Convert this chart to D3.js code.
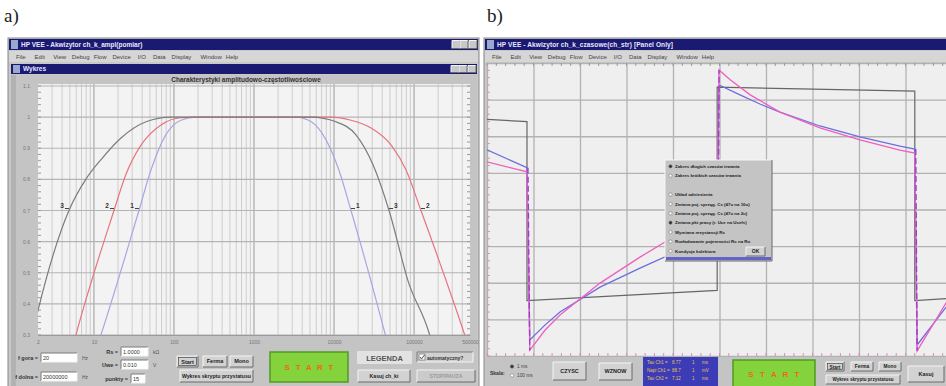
<!DOCTYPE html>
<html>
<head>
<meta charset="utf-8">
<script src="https://cdn.jsdelivr.net/npm/d3@7/dist/d3.min.js"></script>
<style>
body { margin: 0; background: #fff; }
svg { display: block; font-family: "Liberation Sans", Arial, sans-serif; }
</style>
</head>
<body>
<svg id="chart" width="946" height="386"></svg>
<script>
// --- a) amplitude-frequency characteristics ---
const freqTicks = [2, 10, 100, 1000, 10000, 100000, 500000]
const freqLabels = ["2", "10", "100", "1000", "10000", "100000", "500000"]
const ampTicks = [0.3, 0.4, 0.5, 0.6, 0.7, 0.8, 0.9, 1.0, 1.1]
const ampLabels = ["0.3", "0.4", "0.5", "0.6", "0.7", "0.8", "0.9", "1", "1.1"]

// [frequency Hz, relative amplitude]
const curve1 = [[10.5, 0.25], [12.2, 0.3], [36.5, 0.7], [51.6, 0.83], [79, 0.943], [122, 0.99], [188, 1], [3350, 1], [5200, 0.985], [7940, 0.927], [11500, 0.83], [16300, 0.7], [42200, 0.316], [47000, 0.27]]
const curve2 = [[5.3, 0.25], [5.96, 0.3], [17.8, 0.7], [25, 0.815], [38.7, 0.91], [68.8, 0.975], [122, 0.998], [217, 1], [9100, 1], [16300, 0.99], [29000, 0.965], [51800, 0.91], [79400, 0.83], [122000, 0.7], [410000, 0.316], [470000, 0.27]]
const curve3 = [[1.8, 0.33], [2.05, 0.39], [4.87, 0.7], [7.9, 0.8], [12.2, 0.863], [21.8, 0.933], [44.7, 0.985], [91, 1], [5200, 1], [10600, 0.985], [18800, 0.943], [30800, 0.846], [48700, 0.7], [85000, 0.47], [150000, 0.316], [170000, 0.27]]
const curveNames = ["1", "2", "3"]
// crossing of the 0.7 level, left and right, per curve
const labelFreqLeft = [36.5, 17.8, 4.87]
const labelFreqRight = [16300, 122000, 48700]

// --- b) time response ---
// [time div, volts div]
const squareWave = [[0, 2.46], [0.86, 2.4], [0.86, -2.49], [4.95, -2.21], [4.95, 3.34], [9.2, 3.23], [9.2, -2.49], [9.9, -2.43]]
const blueWave = [[0, 1.63], [0.86, 1.14], [0.92, -3.56], [1.25, -3.15], [1.57, -2.8], [2.43, -2.12], [3.29, -1.6], [4.15, -1.11], [4.95, -0.72],
    [4.99, 3.4], [5.44, 3.13], [5.87, 2.88], [6.3, 2.66], [7.16, 2.28], [8.02, 1.98], [8.88, 1.73], [9.2, 1.65], [9.25, -3.7], [9.9, -2.62]]
const pinkWave = [[0, 1.3], [0.86, 1.03], [0.92, -3.84], [1.25, -3.29], [1.57, -2.88], [2.43, -2.01], [3.29, -1.3], [4.15, -0.64], [4.95, -0.07],
    [4.99, 3.81], [5.23, 3.54], [5.66, 3.13], [6.3, 2.66], [7.16, 2.23], [8.02, 1.9], [8.88, 1.62], [9.2, 1.54], [9.25, -3.86], [9.9, -2.49]]

const menuItems = ["File", "Edit", "View", "Debug", "Flow", "Device", "I/O", "Data", "Display", "Window", "Help"]
const dialogOptions = ["Zakres długich czasów trwania", "Zakres krótkich czasów trwania", "", "Układ odniesienia", "Zmiana poj. sprzęg. Cs (47u na 10u)", "Zmiana poj. sprzęg. Cs (47u na 2u)", "Zmiana pkt pracy (r. Uce na Ucefs)", "Wymiana rezystancji Rc", "Rozładowanie pojemności Rc na Ro", "Kondycja kolektora"]
const infoRows = [["Tau Ch1 =", "8.77", "1", "ms"], ["Napi Ch1 =", "88.7", "1", "mV"], ["Tau Ch2 =", "7.12", "1", "ms"]]

const svg = d3.select("#chart")
const navy = "#1b1a72"
const face = "#c9c9c9"

// ----- helpers -----
function bevel(g, x, y, w, h, fill, sunken) {
    g.append("rect").attr("x", x).attr("y", y).attr("width", w).attr("height", h).attr("fill", fill)
    let lt = sunken ? "#7a7a7a" : "#f4f4f4"
    let dk = sunken ? "#f4f4f4" : "#6a6a6a"
    g.append("path").attr("d", `M${x},${y + h}V${y}H${x + w}`).attr("stroke", lt).attr("fill", "none")
    g.append("path").attr("d", `M${x},${y + h}H${x + w}V${y}`).attr("stroke", dk).attr("fill", "none")
}
function txt(g, s, x, y, size, color, anchor, weight) {
    return g.append("text").text(s).attr("x", x).attr("y", y)
        .attr("font-size", size).attr("fill", color || "#222")
        .attr("text-anchor", anchor || "start").attr("font-weight", weight || "normal")
}
function button(g, x, y, w, h, label, size) {
    bevel(g, x, y, w, h, "#d2d2d2", false)
    txt(g, label, x + w / 2, y + h / 2 + size * 0.35, size, "#222", "middle", "bold")
}
function titleBar(g, x, y, w, h, label, textLen) {
    g.append("rect").attr("x", x).attr("y", y).attr("width", w).attr("height", h).attr("fill", navy)
    g.append("rect").attr("x", x + 2).attr("y", y + 1).attr("width", 7).attr("height", h - 2).attr("fill", "#9aa8d0")
    let t = txt(g, label, x + 12, y + h - 3, 6.5, "#e8e8ff", "start", "bold")
    if (textLen) t.attr("textLength", textLen)
    ;[26, 18, 9].forEach((dx) => bevel(g, x + w - dx, y + 1.5, 8, h - 3, "#c8c8c8", false))
}
function menuBar(g, x, y, w) {
    g.append("rect").attr("x", x).attr("y", y).attr("width", w).attr("height", 11).attr("fill", "#d6d6d6")
    let cx = x + 7
    menuItems.forEach((m) => {
        txt(g, m, cx, y + 8, 6, "#444")
        cx += m.length * 3.4 + 5
    })
}
function startButton(g, x, y, w, h) {
    g.append("rect").attr("x", x).attr("y", y).attr("width", w).attr("height", h)
        .attr("fill", "#84d23c").attr("stroke", "#4f9a22").attr("stroke-width", 1.5)
    "START".split("").forEach((c, i) => {
        txt(g, c, x + w * (0.22 + i * 0.14), y + h / 2 + 3, 8, "#f06a10", "middle", "bold")
    })
}

// =========================================================
// a) window
// =========================================================
txt(svg, "a)", 4, 22, 19, "#222").attr("font-family", "Liberation Serif, serif")
txt(svg, "b)", 487, 22, 19, "#222").attr("font-family", "Liberation Serif, serif")

const wa = svg.append("g")
wa.append("rect").attr("x", 8).attr("y", 38).attr("width", 471).attr("height", 350).attr("fill", face).attr("stroke", "#888")
titleBar(wa, 9, 39, 469, 11, "HP VEE - Akwizytor ch_k_ampl(pomiar)")
menuBar(wa, 9, 51, 469)
titleBar(wa, 11, 64, 466, 10, "Wykres")
wa.append("rect").attr("x", 11).attr("y", 75).attr("width", 466).attr("height", 311).attr("fill", "#c4c4c4")
wa.append("rect").attr("x", 11).attr("y", 75).attr("width", 5).attr("height", 311).attr("fill", "#b2b2b2")
txt(wa, "Charakterystyki amplitudowo-częstotliwościowe", 246, 81.5, 6.5, "#333", "middle", "bold")

const pa = { l: 38, r: 470, t: 86, b: 335 }
const x = d3.scaleLog().domain([2, 500000]).range([pa.l, pa.r])
const y = d3.scaleLinear().domain([0.3, 1.1]).range([pa.b, pa.t])

wa.append("rect").attr("x", pa.l).attr("y", pa.t - 2).attr("width", pa.r - pa.l).attr("height", pa.b - pa.t + 2).attr("fill", "#f3f3f3")

// log grid
let gridF = []
for (let k = 0; k <= 5; k++) for (let m = 1; m <= 9; m++) {
    let f = m * Math.pow(10, k)
    if (f > 2 && f < 500000) gridF.push({ f: f, major: m === 1 })
}
wa.append("g").selectAll("line").data(gridF).join("line")
    .attr("x1", d => x(d.f)).attr("x2", d => x(d.f))
    .attr("y1", pa.t - 2).attr("y2", pa.b)
    .attr("stroke", d => d.major ? "#a9a9a9" : "#cdcdcd").attr("stroke-width", d => d.major ? 1.2 : 1)

wa.append("g").selectAll("line").data(ampTicks).join("line")
    .attr("x1", pa.l).attr("x2", pa.r).attr("y1", d => y(d)).attr("y2", d => y(d))
    .attr("stroke", "#b4b4b4").attr("stroke-width", 1.2)

// minor ticks on the amplitude axis
const minorAmp = d3.range(0.3, 1.1001, 0.02)
wa.append("g").selectAll("line").data(minorAmp).join("line")
    .attr("x1", pa.l).attr("x2", pa.l + 3).attr("y1", d => y(d)).attr("y2", d => y(d)).attr("stroke", "#999")
wa.append("g").selectAll("line").data(minorAmp).join("line")
    .attr("x1", pa.r - 3).attr("x2", pa.r).attr("y1", d => y(d)).attr("y2", d => y(d)).attr("stroke", "#999")

const yAxisA = wa.append("g").attr("transform", `translate(${pa.l},0)`)
    .call(d3.axisLeft(y).tickValues(ampTicks).tickFormat((d, i) => ampLabels[i]).tickSize(0).tickPadding(8))
yAxisA.select(".domain").remove()
yAxisA.selectAll("text").attr("font-size", 5).attr("fill", "#777").attr("font-family", "Liberation Sans, Arial")

const xAxisA = wa.append("g").attr("transform", `translate(0,${pa.b})`)
    .call(d3.axisBottom(x).tickValues(freqTicks).tickFormat((d, i) => freqLabels[i]).tickSize(0).tickPadding(5))
xAxisA.select(".domain").attr("stroke", "#999")
xAxisA.selectAll("text").attr("font-size", 5).attr("fill", "#777").attr("font-family", "Liberation Sans, Arial")

wa.append("clipPath").attr("id", "clipA").append("rect")
    .attr("x", pa.l).attr("y", pa.t - 2).attr("width", pa.r - pa.l).attr("height", pa.b - pa.t + 2)

const lineA = d3.line().x(d => x(d[0])).y(d => y(d[1])).curve(d3.curveMonotoneX)
const curveColors = ["#a7a7e2", "#e8747e", "#7c7c7c"]
;[curve1, curve2, curve3].forEach((c, i) => {
    wa.append("path").datum(c).attr("d", lineA)
        .attr("fill", "none").attr("stroke", curveColors[i]).attr("stroke-width", 1.2)
        .attr("clip-path", "url(#clipA)")
})

curveNames.forEach((n, i) => {
    let xl = x(labelFreqLeft[i]), xr = x(labelFreqRight[i]), yy = y(0.7)
    wa.append("line").attr("x1", xl - 4).attr("x2", xl).attr("y1", yy - 2).attr("y2", yy - 2).attr("stroke", "#444")
    txt(wa, n, xl - 5, yy - 3, 6.5, "#333", "end", "bold")
    wa.append("line").attr("x1", xr).attr("x2", xr + 4).attr("y1", yy - 2).attr("y2", yy - 2).attr("stroke", "#444")
    txt(wa, n, xr + 5, yy - 3, 6.5, "#333", "start", "bold")
})

// controls under the chart
function field(g, label, lx, ly, bx, bw, value, unit) {
    txt(g, label, lx, ly, 5.5, "#333", "end", "bold")
    bevel(g, bx, ly - 7, bw, 9, "#fff", true)
    txt(g, value, bx + 2, ly, 5.5, "#333")
    if (unit) txt(g, unit, bx + bw + 5, ly, 5, "#555")
}
field(wa, "f gora =", 38, 360, 41, 36, "20", "Hz")
field(wa, "f dolna =", 38, 379, 41, 36, "20000000", "Hz")
field(wa, "Rs =", 118, 354, 121, 27, "1.0000", "kΩ")
field(wa, "Uwe =", 118, 367, 121, 27, "0.010", "V")
field(wa, "punkty =", 128, 381, 131, 14, "15", "")

bevel(wa, 177, 356, 21, 11, "#d2d2d2", false)
wa.append("rect").attr("x", 178.5).attr("y", 357.5).attr("width", 18).attr("height", 8).attr("fill", "none").attr("stroke", "#333").attr("stroke-width", 0.6)
txt(wa, "Start", 187.5, 363.5, 5.5, "#222", "middle", "bold")
button(wa, 203, 356, 24, 11, "Ferma", 5.5)
button(wa, 230, 356, 23, 11, "Mono", 5.5)
button(wa, 180, 370, 73, 12, "Wykres skryptu przystatusu", 5.2)

startButton(wa, 270, 352, 78, 30)

wa.append("rect").attr("x", 357).attr("y", 351).attr("width", 55).attr("height", 13).attr("fill", "#e2e2e2")
txt(wa, "LEGENDA", 384.5, 360.5, 7.5, "#555", "middle", "bold")
button(wa, 358, 370, 52, 12, "Kasuj ch_ki", 5.2)

bevel(wa, 417, 352, 56, 10, "#d0d0d0", true)
wa.append("rect").attr("x", 419).attr("y", 354).attr("width", 6).attr("height", 6).attr("fill", "#fff").attr("stroke", "#555").attr("stroke-width", 0.6)
wa.append("path").attr("d", "M420,357l1.5,2l3,-4").attr("stroke", "#222").attr("fill", "none").attr("stroke-width", 0.8)
txt(wa, "automatyczny?", 427, 359.5, 5, "#333", "start", "bold")
bevel(wa, 417, 370, 58, 12, "#cbcbcb", false)
txt(wa, "STOP/PAUZA", 446, 378, 5.2, "#9a9a9a", "middle", "bold")

// =========================================================
// b) window (cut off at the right edge)
// =========================================================
const wb = svg.append("g")
wb.append("rect").attr("x", 484).attr("y", 38).attr("width", 480).attr("height", 350).attr("fill", face).attr("stroke", "#888")
titleBar(wb, 485, 39, 500, 11, "HP VEE - Akwizytor ch_k_czasowe(ch_str) [Panel Only]", 176)
menuBar(wb, 485, 51, 470)

const pb = { l: 487, r: 953, t: 63, b: 356 }
const tx = d3.scaleLinear().domain([0, 10]).range([pb.l, pb.l + 465])
const vy = d3.scaleLinear().domain([-4, 4]).range([pb.b, pb.t])

wb.append("rect").attr("x", pb.l).attr("y", pb.t).attr("width", 946 - pb.l).attr("height", pb.b - pb.t).attr("fill", "#efefef")

const xAxisB = wb.append("g").attr("transform", `translate(0,${pb.t})`)
    .call(d3.axisBottom(tx).ticks(10).tickSize(pb.b - pb.t).tickFormat(""))
xAxisB.select(".domain").remove()
xAxisB.selectAll("line").attr("stroke", "#b2b2b2").attr("stroke-width", 1.3)
const yAxisB = wb.append("g").attr("transform", `translate(${pb.l},0)`)
    .call(d3.axisRight(vy).ticks(8).tickSize(946 - pb.l).tickFormat(""))
yAxisB.select(".domain").remove()
yAxisB.selectAll("line").attr("stroke", "#b2b2b2").attr("stroke-width", 1.3)

// minor ticks along the frame
const minorT = d3.range(0, 10, 0.2)
wb.append("g").selectAll("line").data(minorT).join("line")
    .attr("x1", d => tx(d)).attr("x2", d => tx(d)).attr("y1", pb.b - 3).attr("y2", pb.b).attr("stroke", "#e08ab8")
wb.append("g").selectAll("line").data(minorT).join("line")
    .attr("x1", d => tx(d)).attr("x2", d => tx(d)).attr("y1", pb.t).attr("y2", pb.t + 3).attr("stroke", "#999")
const minorV = d3.range(-4, 4, 0.2)
wb.append("g").selectAll("line").data(minorV).join("line")
    .attr("x1", pb.l).attr("x2", pb.l + 3).attr("y1", d => vy(d)).attr("y2", d => vy(d)).attr("stroke", "#d890b8")

wb.append("clipPath").attr("id", "clipB").append("rect")
    .attr("x", pb.l).attr("y", pb.t).attr("width", 946 - pb.l).attr("height", pb.b - pb.t)

const lineB = d3.line().x(d => tx(d[0])).y(d => vy(d[1]))
wb.append("path").datum(squareWave).attr("d", lineB).attr("fill", "none")
    .attr("stroke", "#666").attr("stroke-width", 1.2).attr("clip-path", "url(#clipB)")
wb.append("path").datum(blueWave).attr("d", lineB).attr("fill", "none")
    .attr("stroke", "#6d6de0").attr("stroke-width", 1.3).attr("clip-path", "url(#clipB)")
wb.append("path").datum(pinkWave).attr("d", lineB).attr("fill", "none")
    .attr("stroke", "#ee5fc0").attr("stroke-width", 1.3).attr("clip-path", "url(#clipB)")
// dashed edges where the two channels jump together
;[[blueWave[1], pinkWave[2]], [blueWave[8], pinkWave[9]], [blueWave[16], pinkWave[17]]].forEach((p) => {
    wb.append("line").attr("x1", tx(p[0][0]) + 1).attr("x2", tx(p[1][0]))
        .attr("y1", vy(p[0][1])).attr("y2", vy(p[1][1]))
        .attr("stroke", "#9a3cc8").attr("stroke-width", 1.3).attr("stroke-dasharray", "6,3")
})

// options dialog
const dlg = wb.append("g")
bevel(dlg, 665, 160, 107, 101, "#c4c4c4", false)
dlg.append("rect").attr("x", 666).attr("y", 257).attr("width", 105).attr("height", 3).attr("fill", "#6464c8")
dialogOptions.forEach((o, i) => {
    if (!o) return
    let yy = 168 + i * 9.4
    dlg.append("circle").attr("cx", 670.5).attr("cy", yy - 1.7).attr("r", 1.6).attr("fill", i === 0 || i === 6 ? "#333" : "#fff").attr("stroke", "#666").attr("stroke-width", 0.5)
    txt(dlg, o, 675, yy, 4.4, "#222", "start", "bold")
})
button(dlg, 746, 247, 19, 9, "OK", 5)

// bottom controls of b)
wb.append("rect").attr("x", 485).attr("y", 357).attr("width", 461).attr("height", 29).attr("fill", "#c4c4c4")
txt(wb, "Skala:", 490, 375, 5, "#333", "start", "bold")
;[["1 ms", 368], ["100 ms", 377]].forEach((r, i) => {
    wb.append("circle").attr("cx", 512).attr("cy", r[1] - 1.5).attr("r", 1.7).attr("fill", i === 0 ? "#333" : "#fff").attr("stroke", "#666").attr("stroke-width", 0.5)
    txt(wb, r[0], 517, r[1], 4.8, "#444")
})
button(wb, 553, 362, 33, 18, "CZYSC", 5.5)
button(wb, 599, 363, 33, 17, "WZNOW", 5.5)
wb.append("rect").attr("x", 643).attr("y", 357).attr("width", 75).attr("height", 29).attr("fill", "#3b3cb6")
infoRows.forEach((r, i) => {
    let yy = 364 + i * 8
    txt(wb, r[0], 647, yy, 4.5, "#e8c25a")
    txt(wb, r[1], 672, yy, 4.5, "#e8c25a")
    txt(wb, r[2], 692, yy, 4.5, "#e8c25a")
    txt(wb, r[3], 702, yy, 4.5, "#e8c25a")
})
startButton(wb, 733, 360, 82, 28)
bevel(wb, 826, 362, 18, 9, "#d2d2d2", false)
wb.append("rect").attr("x", 827.5).attr("y", 363.5).attr("width", 15).attr("height", 6).attr("fill", "none").attr("stroke", "#333").attr("stroke-width", 0.6)
txt(wb, "Start", 835, 368.5, 4.8, "#222", "middle", "bold")
button(wb, 851, 362, 22, 9, "Ferma", 4.8)
button(wb, 879, 362, 22, 9, "Mono", 4.8)
button(wb, 826, 375, 74, 9, "Wykres skryptu przystatusu", 4.6)
button(wb, 908, 366, 36, 16, "Kasuj", 5.5)
</script>
</body>
</html>
